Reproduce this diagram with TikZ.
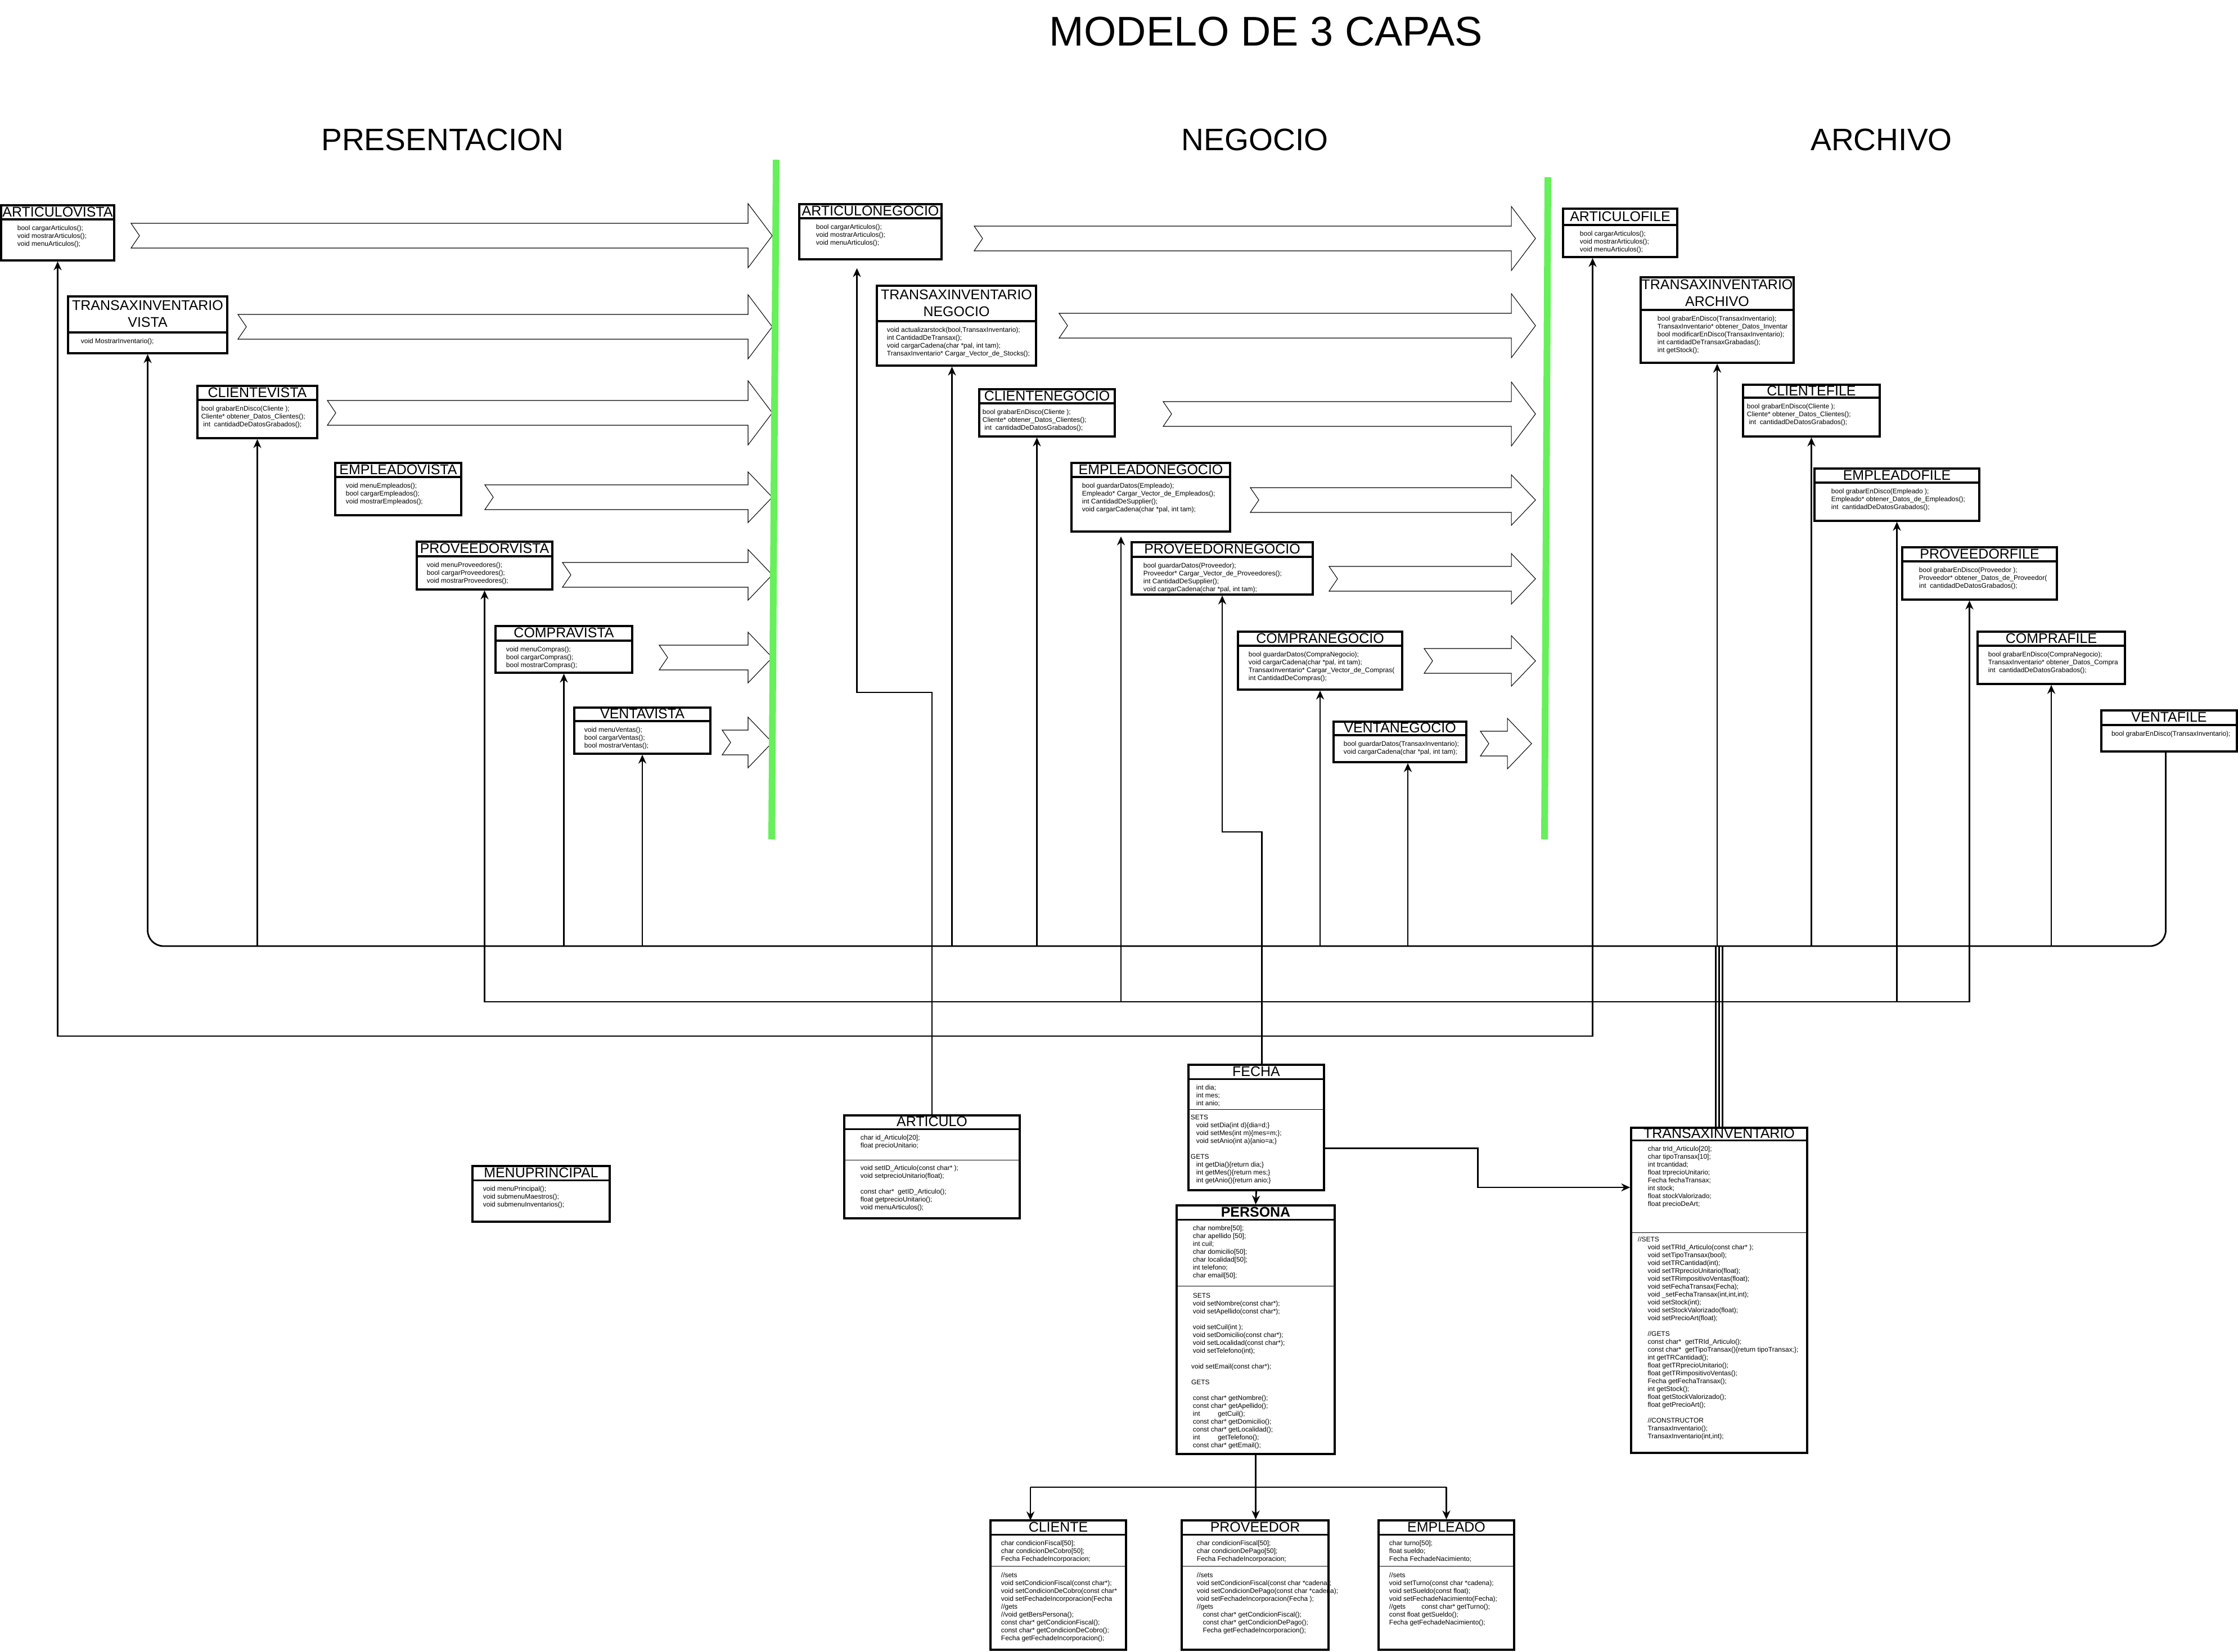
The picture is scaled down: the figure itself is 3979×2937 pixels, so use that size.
\documentclass[tikz,border=0pt]{standalone}
\usepackage{fontspec}
\setmainfont{Liberation Sans}
\usetikzlibrary{calc,fit,arrows.meta}

\definecolor{layergreen}{RGB}{102,240,90}

% class box: name, x1, y1, x2, y2, title height, indent, title, body
\newcommand{\umlbox}[9]{%
  \node[classbox, fit={(#2,#3) (#4,#5)}] (#1) {};
  \draw[boxline] ($(#1.north west)+(0,#6)$) -- ($(#1.north east)+(0,#6)$);
  \node[titletext] at ($(#1.north)+(0,#6/2)$) {#8};
  \node[bodytext] at ($(#1.north west)+(#7,#6+10)$) {#9};
}

% layer arrow: tail x, tip x, middle y, half height of the head
\newcommand{\layerarrow}[4]{%
  \draw[bigarrow] (#1,#3-22) -- (#2-43,#3-22) -- (#2-43,#3-#4) -- (#2,#3)
    -- (#2-43,#3+#4) -- (#2-43,#3+22) -- (#1,#3+22) -- (#1+15,#3) -- cycle;
}

\begin{document}
\begin{tikzpicture}[x=0.01cm, y=-0.01cm,
  classbox/.style={draw, line width=1pt, inner sep=0pt, fill=white},
  boxline/.style={line width=1pt},
  thinline/.style={line width=0.4pt},
  titletext/.style={font=\fontsize{7.1}{8.5}\selectfont, align=center, inner sep=0pt},
  bodytext/.style={font=\fontsize{3.4}{3.98}\selectfont, align=left, anchor=north west, inner sep=0pt},
  heading/.style={font=\fontsize{15.7}{19}\selectfont, inner sep=0pt},
  bigarrow/.style={line width=0.3pt, fill=white},
  layerline/.style={line width=3.4pt, layergreen},
  wire/.style={line width=0.8pt},
  conn/.style={line width=0.8pt, -{Stealth[length=4.5pt,width=4pt]}},
  biconn/.style={line width=0.8pt, {Stealth[length=4.5pt,width=4pt]}-{Stealth[length=4.5pt,width=4pt]}}]

\fill[white] (0,0) rectangle (3979,2937);
\useasboundingbox (0,0) rectangle (3979,2937);

% headings
\node[font=\fontsize{21}{25}\selectfont, inner sep=0pt] (mainttl) at (2251,56) {MODELO DE 3 CAPAS};
\node[heading] (presttl) at (787,249) {PRESENTACION};
\node[heading] (negttl) at (2231,249) {NEGOCIO};
\node[heading] (archttl) at (3345,249) {ARCHIVO};

% layer arrows
\layerarrow{233}{1373}{419}{57}
\layerarrow{423}{1373}{581}{57}
\layerarrow{582}{1373}{734}{57}
\layerarrow{862}{1373}{884}{45}
\layerarrow{1000}{1373}{1022}{45}
\layerarrow{1172}{1373}{1169}{45}
\layerarrow{1284}{1373}{1320}{45}
\layerarrow{1732}{2730}{424}{57}
\layerarrow{1883}{2730}{579}{57}
\layerarrow{2068}{2730}{736}{57}
\layerarrow{2223}{2730}{889}{45}
\layerarrow{2363}{2730}{1029}{45}
\layerarrow{2532}{2730}{1175}{45}
\layerarrow{2632}{2723}{1322}{45}

\draw[layerline] (1380,284) -- (1372,1492);
\draw[layerline] (2752,315) -- (2746,1492);

% PRESENTACION
\umlbox{avista}{2}{365}{203}{463}{27}{30}{ARTICULOVISTA}{bool cargarArticulos();\\void mostrarArticulos();\\void menuArticulos();}
\umlbox{tvista}{121}{527}{404}{628}{66}{24}{TRANSAXINVENTARIO\\VISTA}{void MostrarInventario();}
\umlbox{cvista}{351}{686}{564}{779}{27}{8}{CLIENTEVISTA}{bool grabarEnDisco(Cliente );\\Cliente* obtener\_Datos\_Clientes();\\\hspace*{1pt}int\ \ cantidadDeDatosGrabados();}
\umlbox{evista}{596}{823}{820}{916}{27}{20}{EMPLEADOVISTA}{void menuEmpleados();\\bool cargarEmpleados();\\void mostrarEmpleados();}
\umlbox{pvista}{741}{963}{982}{1048}{28}{19}{PROVEEDORVISTA}{void menuProveedores();\\bool cargarProveedores();\\void mostrarProveedores();}
\umlbox{covista}{881}{1113}{1124}{1196}{28}{20}{COMPRAVISTA}{void menuCompras();\\bool cargarCompras();\\bool mostrarCompras();}
\umlbox{vevista}{1021}{1258}{1263}{1340}{26}{19}{VENTAVISTA}{void menuVentas();\\bool cargarVentas();\\bool mostrarVentas();}

% NEGOCIO
\umlbox{aneg}{1421}{363}{1674}{461}{27}{31}{ARTICULONEGOCIO}{bool cargarArticulos();\\void mostrarArticulos();\\void menuArticulos();}
\umlbox{tneg}{1559}{508}{1842}{650}{65}{19}{TRANSAXINVENTARIO\\NEGOCIO}{void actualizarstock(bool,TransaxInventario);\\int CantidadDeTransax();\\void cargarCadena(char *pal, int tam);\\TransaxInventario* Cargar\_Vector\_de\_Stocks();}
\umlbox{cneg}{1741}{692}{1982}{776}{27}{7}{CLIENTENEGOCIO}{bool grabarEnDisco(Cliente );\\Cliente* obtener\_Datos\_Clientes();\\\hspace*{1pt}int\ \ cantidadDeDatosGrabados();}
\umlbox{eneg}{1905}{823}{2187}{945}{27}{20}{EMPLEADONEGOCIO}{bool guardarDatos(Empleado);\\Empleado* Cargar\_Vector\_de\_Empleados();\\int CantidadDeSupplier();\\void cargarCadena(char *pal, int tam);}
\umlbox{pneg}{2012}{964}{2334}{1057}{28}{22}{PROVEEDORNEGOCIO}{bool guardarDatos(Proveedor);\\Proveedor* Cargar\_Vector\_de\_Proveedores();\\int CantidadDeSupplier();\\void cargarCadena(char *pal, int tam);}
\umlbox{coneg}{2201}{1123}{2493}{1226}{27}{20}{COMPRANEGOCIO}{bool guardarDatos(CompraNegocio);\\void cargarCadena(char *pal, int tam);\\TransaxInventario* Cargar\_Vector\_de\_Compras(\\int CantidadDeCompras();}
\umlbox{veneg}{2371}{1283}{2607}{1355}{26}{19}{VENTANEGOCIO}{bool guardarDatos(TransaxInventario);\\void cargarCadena(char *pal, int tam);}

% ARCHIVO
\umlbox{afile}{2779}{371}{2982}{457}{31}{31}{ARTICULOFILE}{bool cargarArticulos();\\void mostrarArticulos();\\void menuArticulos();}
\umlbox{tfile}{2917}{493}{3189}{645}{60}{31}{TRANSAXINVENTARIO\\ARCHIVO}{bool grabarEnDisco(TransaxInventario);\\TransaxInventario* obtener\_Datos\_Inventar\\bool modificarEnDisco(TransaxInventario);\\int cantidadDeTransaxGrabadas();\\int getStock();}
\umlbox{cfile}{3099}{684}{3342}{776}{25}{8}{CLIENTEFILE}{bool grabarEnDisco(Cliente );\\Cliente* obtener\_Datos\_Clientes();\\\hspace*{1pt}int\ \ cantidadDeDatosGrabados();}
\umlbox{efile}{3226}{833}{3519}{926}{27}{31}{EMPLEADOFILE}{bool grabarEnDisco(Empleado );\\Empleado* obtener\_Datos\_de\_Empleados();\\int\ \ cantidadDeDatosGrabados();}
\umlbox{pfile}{3382}{973}{3657}{1066}{27}{31}{PROVEEDORFILE}{bool grabarEnDisco(Proveedor );\\Proveedor* obtener\_Datos\_de\_Proveedor(\\int\ \ cantidadDeDatosGrabados();}
\umlbox{cofile}{3516}{1123}{3778}{1216}{27}{20}{COMPRAFILE}{bool grabarEnDisco(CompraNegocio);\\TransaxInventario* obtener\_Datos\_Compra\\int\ \ cantidadDeDatosGrabados();}
\umlbox{vefile}{3736}{1263}{3977}{1336}{28}{19}{VENTAFILE}{bool grabarEnDisco(TransaxInventario);}

% bottom classes
\umlbox{menu}{840}{2073}{1084}{2172}{27}{20}{MENUPRINCIPAL}{void menuPrincipal();\\void submenuMaestros();\\void submenuInventarios();}
\umlbox{art}{1501}{1983}{1813}{2166}{26}{30}{ARTICULO}{char id\_Articulo[20];\\float precioUnitario;}
\draw[thinline] ($(art.north west)+(0,81)$) -- ($(art.north east)+(0,81)$);
\node[bodytext] at ($(art.north west)+(30,90)$) {void setID\_Articulo(const char* );\\void setprecioUnitario(float);\\[3.98pt]const char*\ \ getID\_Articulo();\\float getprecioUnitario();\\void menuArticulos();};

\umlbox{fecha}{2113}{1893}{2354}{2116}{27}{15}{FECHA}{int dia;\\int mes;\\int anio;}
\draw[thinline] ($(fecha.north west)+(0,81)$) -- ($(fecha.north east)+(0,81)$);
\node[bodytext] at ($(fecha.north west)+(5,90)$) {SETS\\\hspace*{2.8pt}void setDia(int d)\{dia=d;\}\\\hspace*{2.8pt}void setMes(int m)\{mes=m;\};\\\hspace*{2.8pt}void setAnio(int a)\{anio=a;\}\\[3.98pt]GETS\\\hspace*{2.8pt}int getDia()\{return dia;\}\\\hspace*{2.8pt}int getMes()\{return mes;\}\\\hspace*{2.8pt}int getAnio()\{return anio;\}};

\umlbox{persona}{2092}{2143}{2373}{2585}{27}{30}{\bfseries PERSONA}{char nombre[50];\\char apellido [50];\\int cuil;\\char domicilio[50];\\char localidad[50];\\int telefono;\\char email[50];}
\draw[thinline] ($(persona.north west)+(0,145)$) -- ($(persona.north east)+(0,145)$);
\node[bodytext] at ($(persona.north west)+(30,157)$) {SETS\\void setNombre(const char*);\\void setApellido(const char*);\\[3.98pt]void setCuil(int );\\void setDomicilio(const char*);\\void setLocalidad(const char*);\\void setTelefono(int);\\[3.98pt]\hspace*{-0.8pt}void setEmail(const char*);\\[3.98pt]\hspace*{-0.8pt}GETS\\[3.98pt]const char* getNombre();\\const char* getApellido();\\int\hspace{9pt}getCuil();\\const char* getDomicilio();\\const char* getLocalidad();\\int\hspace{9pt}getTelefono();\\const char* getEmail();};

\umlbox{trx}{2900}{2005}{3213}{2583}{24}{31}{TRANSAXINVENTARIO}{char trId\_Articulo[20];\\char tipoTransax[10];\\int trcantidad;\\float trprecioUnitario;\\Fecha fechaTransax;\\int stock;\\float stockValorizado;\\float precioDeArt;}
\draw[thinline] ($(trx.north west)+(0,188)$) -- ($(trx.north east)+(0,188)$);
\node[bodytext] at ($(trx.north west)+(13,195)$) {//SETS\\\hspace*{5pt}void setTRId\_Articulo(const char* );\\\hspace*{5pt}void setTipoTransax(bool);\\\hspace*{5pt}void setTRCantidad(int);\\\hspace*{5pt}void setTRprecioUnitario(float);\\\hspace*{5pt}void setTRimpositivoVentas(float);\\\hspace*{5pt}void setFechaTransax(Fecha);\\\hspace*{5pt}void \_setFechaTransax(int,int,int);\\\hspace*{5pt}void setStock(int);\\\hspace*{5pt}void setStockValorizado(float);\\\hspace*{5pt}void setPrecioArt(float);\\[3.98pt]\hspace*{5pt}//GETS\\\hspace*{5pt}const char*\ \ getTRId\_Articulo();\\\hspace*{5pt}const char*\ \ getTipoTransax()\{return tipoTransax;\};\\\hspace*{5pt}int getTRCantidad();\\\hspace*{5pt}float getTRprecioUnitario();\\\hspace*{5pt}float getTRimpositivoVentas();\\\hspace*{5pt}Fecha getFechaTransax();\\\hspace*{5pt}int getStock();\\\hspace*{5pt}float getStockValorizado();\\\hspace*{5pt}float getPrecioArt();\\[3.98pt]\hspace*{5pt}//CONSTRUCTOR\\\hspace*{5pt}TransaxInventario();\\\hspace*{5pt}TransaxInventario(int,int);};

\umlbox{cliente}{1761}{2703}{2002}{2933}{27}{20}{CLIENTE}{char condicionFiscal[50];\\char condicionDeCobro[50];\\Fecha FechadeIncorporacion;}
\draw[thinline] ($(cliente.north west)+(0,83)$) -- ($(cliente.north east)+(0,83)$);
\node[bodytext] at ($(cliente.north west)+(20,94)$) {//sets\\void setCondicionFiscal(const char*);\\void setCondicionDeCobro(const char*\\void setFechadeIncorporacion(Fecha\\//gets\\//void getBersPersona();\\const char* getCondicionFiscal();\\const char* getCondicionDeCobro();\\Fecha getFechadeIncorporacion();};

\umlbox{proveedor}{2101}{2703}{2362}{2933}{27}{28}{PROVEEDOR}{char condicionFiscal[50];\\char condicionDePago[50];\\Fecha FechadeIncorporacion;}
\draw[thinline] ($(proveedor.north west)+(0,83)$) -- ($(proveedor.north east)+(0,83)$);
\node[bodytext] at ($(proveedor.north west)+(28,94)$) {//sets\\void setCondicionFiscal(const char *cadena);\\void setCondicionDePago(const char *cadena);\\void setFechadeIncorporacion(Fecha );\\//gets\\\hspace*{3pt}const char* getCondicionFiscal();\\\hspace*{3pt}const char* getCondicionDePago();\\\hspace*{3pt}Fecha getFechadeIncorporacion();};

\umlbox{empleado}{2451}{2703}{2692}{2933}{27}{20}{EMPLEADO}{char turno[50];\\float sueldo;\\Fecha FechadeNacimiento;}
\draw[thinline] ($(empleado.north west)+(0,83)$) -- ($(empleado.north east)+(0,83)$);
\node[bodytext] at ($(empleado.north west)+(20,94)$) {//sets\\void setTurno(const char *cadena);\\void setSueldo(const float);\\void setFechadeNacimiento(Fecha);\\//gets\hspace{8pt}const char* getTurno();\\const float getSueldo();\\Fecha getFechadeNacimiento();};

% connector end points
\coordinate (busA) at (0,1682);
\coordinate (busB) at (0,1781);
\coordinate (busC) at (0,1842);
\coordinate (anegin) at ($(aneg.south)+(-24,14)$);
\coordinate (artup) at (1658,1231);
\coordinate (tnegin) at ($(tneg.south)+(-8,0)$);
\coordinate (cnegin) at ($(cneg.south)+(-18,0)$);
\coordinate (enegin) at ($(eneg.south)+(-53,7)$);
\coordinate (vnegin) at ($(veneg.south)+(14,0)$);
\coordinate (afilein) at ($(afile.south)+(-49,0)$);
\coordinate (pfilein) at ($(pfile.south)+(-18,0)$);
\coordinate (vfileout) at ($(vefile.south)+(-6,0)$);
\coordinate (fechaup) at ($(fecha.north)+(10,0)$);
\coordinate (fechaturn) at (2241,1479);
\coordinate (fecharight) at ($(fecha.north east)+(0,150)$);
\coordinate (childbus) at (0,2644);

% buses to the layers
\draw[conn, rounded corners=8] (vfileout) |- (tvista.south |- busA) -- (tvista.south);
\foreach \n in {cvista, covista, vevista, coneg, tfile, cfile, cofile}
  \draw[conn] (\n.south |- busA) -- (\n.south);
\foreach \p in {tnegin, cnegin, vnegin}
  \draw[conn] (\p |- busA) -- (\p);
\draw[biconn] (pvista.south) |- (busB -| pfilein) -- (pfilein);
\draw[conn] (enegin |- busB) -- (enegin);
\draw[conn] (efile.south |- busB) -- (efile.south);
\draw[biconn] (avista.south) |- (busC -| afilein) -- (afilein);
\draw[wire] (trx.north |- busA) -- (trx.north);
\draw[wire] ($(trx.north)+(-6,0)$) -- ($(trx.north |- busA)+(-6,0)$);
\draw[wire] ($(trx.north)+(6,0)$) -- ($(trx.north |- busA)+(6,0)$);

% ARTICULO and FECHA
\draw[conn] (art.north) |- (anegin |- artup) -- (anegin);
\draw[conn] (fechaup) |- (pneg.south |- fechaturn) -- (pneg.south);
\draw[conn] (fecharight) -| ($(fecharight)+(272,0)$) |- (trx.west |- 0,2111);
\draw[conn] (fecha.south) -- (persona.north);

% PERSONA to its children
\draw[wire] (persona.south) -- (persona.south |- childbus);
\draw[wire] (1832,2644) -- (empleado.north |- childbus);
\draw[conn] (1832,2644) -- (1832,2703);
\draw[conn] (persona.south |- childbus) -- (proveedor.north -| persona.south);
\draw[conn] (empleado.north |- childbus) -- (empleado.north);

\end{tikzpicture}
\end{document}
